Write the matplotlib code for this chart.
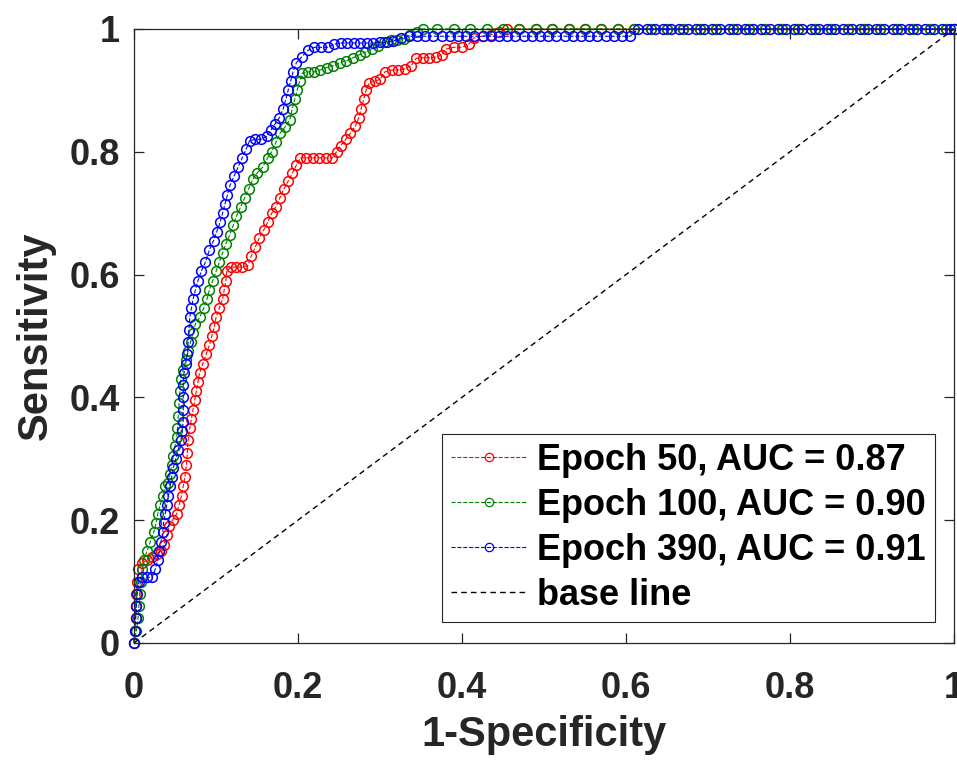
import matplotlib
matplotlib.use("Agg")
import matplotlib.pyplot as plt

plt.rcParams['font.family'] = ['Liberation Sans', 'DejaVu Sans']
plt.rcParams['font.weight'] = 'bold'

# ROC curve points
fpr_50 = [0, 0.001, 0.002, 0.002, 0.003, 0.004, 0.005,
          0.010, 0.016, 0.022, 0.028, 0.033, 0.036, 0.040, 0.043, 0.047, 0.052, 0.055, 0.058, 0.060,
          0.062, 0.064, 0.065, 0.066, 0.068, 0.070, 0.072, 0.074, 0.076, 0.078, 0.080, 0.084, 0.088,
          0.092, 0.095, 0.098, 0.100, 0.104, 0.108, 0.110, 0.112, 0.113, 0.118, 0.125, 0.132, 0.139,
          0.143, 0.148, 0.153, 0.158, 0.163, 0.168, 0.173, 0.178, 0.183, 0.188, 0.193, 0.198, 0.203,
          0.210, 0.218, 0.226, 0.234, 0.242, 0.247, 0.252, 0.258, 0.264, 0.270, 0.274, 0.277, 0.280,
          0.283, 0.287, 0.294, 0.300, 0.306, 0.314, 0.322, 0.330, 0.338, 0.344, 0.352, 0.360, 0.368,
          0.376, 0.380, 0.390, 0.400, 0.408, 0.414, 0.425, 0.435, 0.445, 0.455,
          0.47, 0.49, 0.51, 0.53, 0.55, 0.57, 0.59, 0.61, 0.63, 0.65, 0.67, 0.69, 0.71, 0.73, 0.75,
          0.77, 0.79, 0.81, 0.83, 0.85, 0.87, 0.89, 0.91, 0.93, 0.95, 0.97, 0.99, 1.0]
tpr_50 = [0, 0.02, 0.04, 0.06, 0.08, 0.10, 0.12,
          0.13, 0.135, 0.14, 0.145, 0.15, 0.16, 0.175, 0.19, 0.20, 0.21, 0.225, 0.24, 0.255,
          0.27, 0.29, 0.31, 0.33, 0.35, 0.365, 0.38, 0.395, 0.41, 0.425, 0.44, 0.455, 0.47,
          0.485, 0.50, 0.515, 0.53, 0.545, 0.56, 0.575, 0.59, 0.605, 0.612, 0.612, 0.612, 0.615,
          0.63, 0.645, 0.66, 0.672, 0.685, 0.70, 0.71, 0.725, 0.74, 0.752, 0.765, 0.778, 0.79,
          0.79, 0.79, 0.79, 0.79, 0.79, 0.80, 0.81, 0.82, 0.83, 0.842, 0.855, 0.87, 0.885,
          0.90, 0.912, 0.915, 0.918, 0.93, 0.933, 0.933, 0.935, 0.94, 0.952, 0.953, 0.953, 0.954,
          0.958, 0.967, 0.97, 0.97, 0.975, 0.985, 0.988, 0.99, 0.995, 1.0,
          1, 1, 1, 1, 1, 1, 1, 1, 1, 1, 1, 1, 1, 1, 1,
          1, 1, 1, 1, 1, 1, 1, 1, 1, 1, 1, 1, 1]

fpr_100 = [0, 0.003, 0.005, 0.006, 0.007, 0.008, 0.010, 0.012, 0.016, 0.020, 0.024, 0.027, 0.029,
           0.032, 0.035, 0.038, 0.041, 0.044, 0.046, 0.048, 0.050, 0.052, 0.053, 0.054, 0.055, 0.056,
           0.057, 0.060, 0.063, 0.066, 0.069, 0.072, 0.075, 0.080, 0.085, 0.089, 0.092, 0.096, 0.100,
           0.104, 0.108, 0.112, 0.117, 0.121, 0.125, 0.130, 0.135, 0.140, 0.145, 0.150, 0.157, 0.163,
           0.168, 0.173, 0.178, 0.184, 0.190, 0.193, 0.196, 0.199, 0.202, 0.205, 0.212, 0.220, 0.227,
           0.235, 0.243, 0.251, 0.259, 0.267, 0.275, 0.282, 0.290, 0.298, 0.305, 0.313, 0.321, 0.329,
           0.337, 0.345, 0.352,
           0.37, 0.39, 0.41, 0.43, 0.45, 0.47, 0.49, 0.51, 0.53, 0.55, 0.57, 0.59, 0.61, 0.63, 0.65,
           0.67, 0.69, 0.71, 0.73, 0.75, 0.77, 0.79, 0.81, 0.83, 0.85, 0.87, 0.89, 0.91, 0.93, 0.95,
           0.97, 0.99, 1.0]
tpr_100 = [0, 0.02, 0.04, 0.06, 0.08, 0.10, 0.12, 0.135, 0.15, 0.165, 0.18, 0.195, 0.21,
           0.225, 0.24, 0.255, 0.26, 0.275, 0.29, 0.305, 0.32, 0.335, 0.35, 0.37, 0.39, 0.41,
           0.43, 0.445, 0.46, 0.475, 0.49, 0.505, 0.52, 0.53, 0.545, 0.56, 0.575, 0.59, 0.605,
           0.62, 0.635, 0.65, 0.665, 0.68, 0.695, 0.71, 0.725, 0.74, 0.755, 0.765, 0.775, 0.79,
           0.80, 0.815, 0.83, 0.84, 0.852, 0.87, 0.885, 0.90, 0.915, 0.928, 0.93, 0.93, 0.933,
           0.937, 0.94, 0.945, 0.948, 0.953, 0.958, 0.962, 0.967, 0.972, 0.978, 0.982, 0.982, 0.984,
           0.99, 0.995, 1.0,
           1, 1, 1, 1, 1, 1, 1, 1, 1, 1, 1, 1, 1, 1, 1,
           1, 1, 1, 1, 1, 1, 1, 1, 1, 1, 1, 1, 1, 1, 1,
           1, 1, 1]

fpr_390 = [0, 0.001, 0.002, 0.003, 0.004, 0.006, 0.010, 0.016, 0.022, 0.026, 0.029, 0.031, 0.033,
           0.035, 0.036, 0.038, 0.040, 0.042, 0.044, 0.046, 0.048, 0.051, 0.054, 0.057, 0.059, 0.060,
           0.060, 0.060, 0.060, 0.061, 0.063, 0.065, 0.066, 0.067, 0.068, 0.070, 0.072, 0.075, 0.078,
           0.082, 0.087, 0.092, 0.097, 0.101, 0.105, 0.108, 0.111, 0.114, 0.117, 0.122, 0.127, 0.132,
           0.137, 0.141, 0.148, 0.155, 0.162, 0.167, 0.172, 0.177, 0.182, 0.185, 0.188, 0.191, 0.194,
           0.198, 0.205, 0.212, 0.220, 0.228, 0.236, 0.244, 0.252, 0.260, 0.268, 0.276, 0.284, 0.292,
           0.300, 0.308, 0.316, 0.325,
           0.335, 0.345, 0.355, 0.365, 0.375, 0.385, 0.395, 0.405, 0.415, 0.425, 0.435, 0.445, 0.455,
           0.465, 0.475, 0.485, 0.495, 0.505, 0.515, 0.525, 0.535, 0.545, 0.555, 0.565, 0.575, 0.585,
           0.595, 0.605,
           0.615, 0.625, 0.635, 0.645, 0.655, 0.665, 0.675, 0.685, 0.695, 0.705, 0.715, 0.725, 0.735,
           0.745, 0.755, 0.765, 0.775, 0.785, 0.795, 0.805, 0.815, 0.825, 0.835, 0.845, 0.855, 0.865,
           0.875, 0.885, 0.895, 0.905, 0.915, 0.925, 0.935, 0.945, 0.955, 0.965, 0.975, 0.985, 0.995, 1.0]
tpr_390 = [0, 0.02, 0.04, 0.06, 0.08, 0.10, 0.107, 0.107, 0.107, 0.12, 0.135, 0.15, 0.165,
           0.18, 0.195, 0.21, 0.225, 0.24, 0.255, 0.27, 0.285, 0.30, 0.315, 0.33, 0.345, 0.36,
           0.38, 0.40, 0.42, 0.44, 0.455, 0.47, 0.49, 0.51, 0.53, 0.545, 0.56, 0.575, 0.59,
           0.605, 0.62, 0.64, 0.655, 0.67, 0.685, 0.70, 0.715, 0.73, 0.745, 0.76, 0.775, 0.79,
           0.805, 0.818, 0.82, 0.82, 0.825, 0.835, 0.845, 0.855, 0.87, 0.885, 0.90, 0.915, 0.93,
           0.945, 0.955, 0.965, 0.97, 0.97, 0.97, 0.975, 0.977, 0.977, 0.977, 0.977, 0.977, 0.977,
           0.978, 0.978, 0.98, 0.985,
           0.988, 0.988, 0.988, 0.988, 0.988, 0.988, 0.988, 0.988, 0.988, 0.988, 0.988, 0.988, 0.988,
           0.988, 0.988, 0.988, 0.988, 0.988, 0.988, 0.988, 0.988, 0.988, 0.988, 0.988, 0.988, 0.988,
           0.988, 0.988,
           1, 1, 1, 1, 1, 1, 1, 1, 1, 1, 1, 1, 1,
           1, 1, 1, 1, 1, 1, 1, 1, 1, 1, 1, 1, 1,
           1, 1, 1, 1, 1, 1, 1, 1, 1, 1, 1, 1, 1, 1]

labels = ['Epoch 50, AUC = 0.87', 'Epoch 100, AUC = 0.90', 'Epoch 390, AUC = 0.91', 'base line']
colors = ['#ff0000', '#008000', '#0000ff']
base_x = [0, 1]
base_y = [0, 1]

tick_vals = [0, 0.2, 0.4, 0.6, 0.8, 1]
tick_text = ['0', '0.2', '0.4', '0.6', '0.8', '1']

fig = plt.figure(figsize=(9.57, 7.6), dpi=100)
ax = fig.add_axes([0.140, 0.154, 0.857, 0.808])

curves = [(fpr_50, tpr_50), (fpr_100, tpr_100), (fpr_390, tpr_390)]
for (fx, ty), c, lab in zip(curves, colors, labels):
    ax.plot(fx, ty, linestyle='--', linewidth=0.8, color=c, marker='o',
            markersize=7, markerfacecolor='none', markeredgewidth=1.1,
            label=lab, clip_on=False)
ax.plot(base_x, base_y, linestyle='--', color='black', linewidth=1.0,
        dashes=(4, 3), label=labels[3])

ax.set_xlim(0, 1)
ax.set_ylim(0, 1)
ax.set_xticks(tick_vals)
ax.set_xticklabels(tick_text)
ax.set_yticks(tick_vals)
ax.set_yticklabels(tick_text)

for s in ax.spines.values():
    s.set_color('#262626')
    s.set_linewidth(0.9)
ax.tick_params(axis='both', direction='in', top=True, right=True, length=7,
               width=0.9, color='#262626', labelsize=26, labelcolor='#262626')
ax.tick_params(axis='x', pad=20)
ax.tick_params(axis='y', pad=10)

ax.set_xlabel('1-Specificity', fontsize=30, fontweight='bold', color='#262626', labelpad=7)
ax.set_ylabel('Sensitivity', fontsize=30, fontweight='bold', color='#262626', labelpad=10)

leg = ax.legend(loc='lower right', bbox_to_anchor=(0.977, 0.034), fontsize=26,
                frameon=True, fancybox=False, framealpha=1, edgecolor='#262626',
                handlelength=2.1, handletextpad=0.3, labelspacing=0.28,
                borderpad=0.25, borderaxespad=0, numpoints=1)
leg.get_frame().set_linewidth(0.8)
for t in leg.get_texts():
    t.set_color('black')
for h in leg.get_lines()[:3]:
    h.set_markersize(6)
    h.set_markeredgewidth(0.9)

fig.savefig('out.png', dpi=100)
